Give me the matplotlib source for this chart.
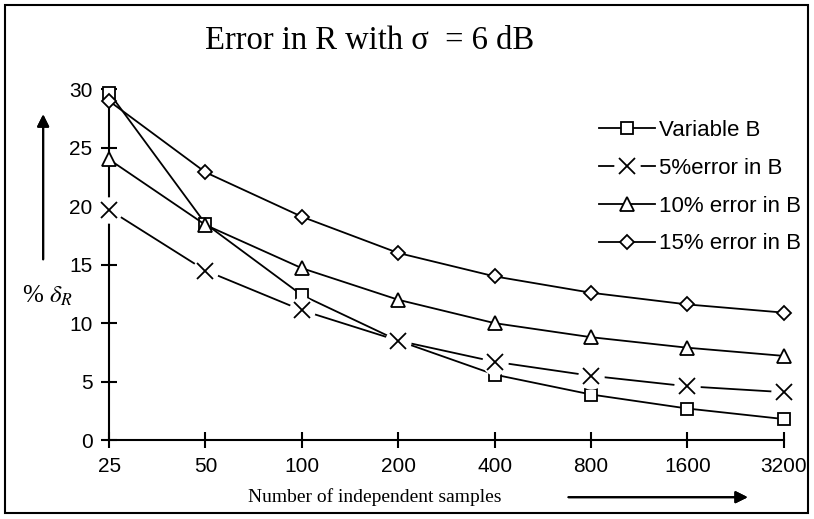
import matplotlib
matplotlib.use('Agg')
import matplotlib.pyplot as plt
from matplotlib.patches import Rectangle
from matplotlib.legend_handler import HandlerTuple

# dati
campioni = ['25', '50', '100', '200', '400', '800', '1600', '3200']
variabile_b = [29.7, 18.5, 12.4, 8.5, 5.6, 3.9, 2.7, 1.8]
errore_5 = [19.7, 14.5, 11.1, 8.5, 6.7, 5.5, 4.6, 4.1]
errore_10 = [24.0, 18.4, 14.7, 12.0, 10.0, 8.8, 7.9, 7.2]
errore_15 = [29.0, 22.9, 19.1, 16.0, 14.0, 12.6, 11.6, 10.9]

plt.rcParams['mathtext.fontset'] = 'stix'
sans = 'Liberation Sans'
serif = 'Liberation Serif'

fig = plt.figure(figsize=(8.14, 5.19), dpi=100)
ax = fig.add_axes([0.134, 0.152, 0.829, 0.676])
x = list(range(len(campioni)))

# linee
lv, = ax.plot(x, variabile_b, color='black', lw=1.3, marker='s', ms=9,
              mfc='white', mec='black', mew=1.3, clip_on=False, zorder=3)
l5, = ax.plot(x, errore_5, color='black', lw=1.3, clip_on=False, zorder=2)
m5, = ax.plot(x, errore_5, ls='none', marker='o', ms=19, mfc='white',
              mec='none', clip_on=False, zorder=4)
x5, = ax.plot(x, errore_5, ls='none', marker='x', ms=11, mec='black',
              mew=1.3, clip_on=False, zorder=5)
l10, = ax.plot(x, errore_10, color='black', lw=1.3, marker='^', ms=10,
               mfc='white', mec='black', mew=1.3, clip_on=False, zorder=3)
l15, = ax.plot(x, errore_15, color='black', lw=1.3, marker='D', ms=7.5,
               mfc='white', mec='black', mew=1.3, clip_on=False, zorder=3)

ax.set_xlim(0, 7)
ax.set_ylim(0, 30)
ax.set_xticks(x)
ax.set_xticklabels(campioni)
ax.set_yticks([0, 5, 10, 15, 20, 25, 30])
for s in ['top', 'right']:
    ax.spines[s].set_visible(False)
for s in ['left', 'bottom']:
    ax.spines[s].set_linewidth(1.5)
ax.tick_params(direction='inout', length=12, width=1.5, labelsize=15, pad=6)
for t in ax.get_xticklabels() + ax.get_yticklabels():
    t.set_fontfamily(sans)

leg = ax.legend([lv, (l5, m5, x5), l10, l15],
                ['Variable B', '5%error in B', '10% error in B', '15% error in B'],
                handler_map={tuple: HandlerTuple(ndivide=1)},
                loc='upper left', bbox_to_anchor=(0.697, 0.97), frameon=False,
                prop={'family': sans, 'size': 16}, handlelength=2.5,
                handletextpad=0.2, labelspacing=0.76)

# titolo ed etichette
fig.text(0.454, 0.921, 'Error in R with σ  = 6 dB', ha='center', va='center',
         fontsize=23.5, fontfamily=serif)
fig.text(0.46, 0.042, 'Number of independent samples', ha='center', va='center',
         fontsize=14, fontfamily=serif)
fig.text(0.058, 0.43, r'% $\delta_R$', ha='center', va='center', fontsize=18,
         fontfamily=serif)

# frecce
fig.add_artist(plt.annotate('', xy=(0.053, 0.785), xytext=(0.053, 0.495),
                            xycoords='figure fraction',
                            arrowprops=dict(arrowstyle='-|>', color='black',
                                            lw=1.5, mutation_scale=18)))
fig.add_artist(plt.annotate('', xy=(0.922, 0.042), xytext=(0.695, 0.042),
                            xycoords='figure fraction',
                            arrowprops=dict(arrowstyle='-|>', color='black',
                                            lw=1.5, mutation_scale=18)))

# cornice
fig.add_artist(Rectangle((0.006, 0.012), 0.987, 0.978, transform=fig.transFigure,
                         fill=False, edgecolor='black', lw=1.5))

fig.savefig('out.png', dpi=100)
